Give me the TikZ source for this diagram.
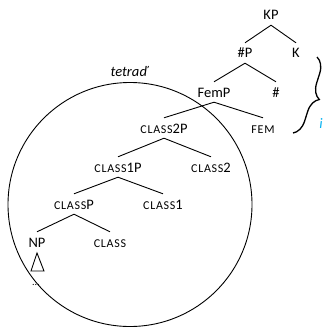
\documentclass[tikz,border=0pt]{standalone}
\usepackage{fontspec}
\setmainfont{Carlito}
\newfontfamily\smcfont[LetterSpace=6]{Carlito}
\usetikzlibrary{decorations.pathreplacing}
\definecolor{icyan}{HTML}{00B0F0}
\newcommand{\smc}[1]{{\smcfont\fontsize{12}{12}\selectfont #1}}
\begin{document}
\begin{tikzpicture}[x=1pt,y=-1pt,
  lbl/.style={anchor=base,inner xsep=0pt,inner ysep=5pt,text height=10pt,text depth=0pt,font=\fontsize{14.5}{16}\selectfont},
  edge/.style={line width=0.9pt}]
\useasboundingbox (0,0) rectangle (324,329);
% circle
\draw[line width=0.9pt] (130,204.5) circle[radius=122];
\node[anchor=base,inner sep=0pt,font=\fontsize{14.5}{16}\selectfont\itshape] (tet) at (129,77) {tetraď};
% nodes
\node[lbl] (KP) at (271,20) {KP};
\node[lbl] (hP) at (245,58) {\#P};
\node[lbl] (K) at (296,58) {K};
\node[lbl] (FemP) at (214,97) {FemP};
\node[lbl] (h) at (276,97) {\#};
\node[lbl] (C2P) at (164,133) {\smc{CLASS}2P};
\node[lbl] (FEM) at (263,133) {\smc{FEM}};
\node[lbl] (C1P) at (118,172) {\smc{CLASS}1P};
\node[lbl] (C2) at (211,172) {\smc{CLASS}2};
\node[lbl] (CP) at (74,209) {\smc{CLASS}P};
\node[lbl] (C1) at (163,209) {\smc{CLASS}1};
\node[lbl] (NP) at (37,247) {NP};
\node[lbl] (C) at (110,247) {\smc{CLASS}};
% edges
\draw[edge] (KP.south) -- (hP.north);
\draw[edge] (KP.south) -- (K.north);
\draw[edge] (hP.south) -- (FemP.north);
\draw[edge] (hP.south) -- (h.north);
\draw[edge] (FemP.south) -- (C2P.north);
\draw[edge] (FemP.south) -- (FEM.north);
\draw[edge] (C2P.south) -- (C1P.north);
\draw[edge] (C2P.south) -- (C2.north);
\draw[edge] (C1P.south) -- (CP.north);
\draw[edge] (C1P.south) -- (C1.north);
\draw[edge] (CP.south) -- (NP.north);
\draw[edge] (CP.south) -- (C.north);
% triangle
\coordinate (tA) at (37,253);
\coordinate (tL) at (31,271);
\coordinate (tR) at (44,271);
\draw[line width=0.9pt] (tA) -- (tL) -- (tR) -- cycle;
\node[anchor=base,inner sep=0pt,font=\fontsize{10}{10}\selectfont] (dots) at (36,285) {...};
% brace
\coordinate (bT) at (317,57);
\coordinate (bB) at (293,133);
\draw[line width=1.3pt,decorate,decoration={brace,amplitude=15pt}] (bT) -- (bB);
\node[anchor=base,inner sep=0pt,text=icyan,font=\fontsize{14.5}{16}\selectfont\itshape] (i) at (321,128) {i};
\end{tikzpicture}
\end{document}
